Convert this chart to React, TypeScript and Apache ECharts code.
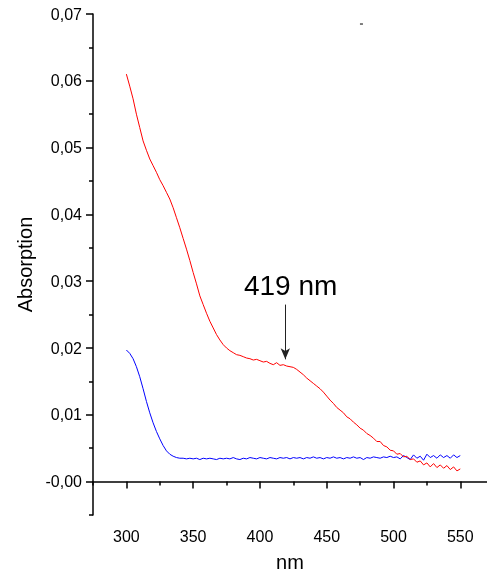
import React, { useEffect, useRef } from "react";
import * as echarts from "echarts";

const wavelengths = [
  300, 302.5, 305, 307.5, 310, 312.5, 315, 317.5, 320, 322.5, 325, 327.5, 330, 332.5, 335, 337.5,
  340, 342.5, 345, 347.5, 350, 352.5, 355, 357.5, 360, 362.5, 365, 367.5, 370, 372.5, 375, 377.5,
  380, 382.5, 385, 387.5, 390, 392.5, 395, 397.5, 400, 402.5, 405, 407.5, 410, 412.5, 415, 417.5,
  420, 422.5, 425, 427.5, 430, 432.5, 435, 437.5, 440, 442.5, 445, 447.5, 450, 452.5, 455, 457.5,
  460, 462.5, 465, 467.5, 470, 472.5, 475, 477.5, 480, 482.5, 485, 487.5, 490, 492.5, 495, 497.5,
  500, 502.5, 505, 507.5, 510, 512.5, 515, 517.5, 520, 522.5, 525, 527.5, 530, 532.5, 535, 537.5,
  540, 542.5, 545, 547.5, 550,
];

const redAbs = [
  0.0610, 0.0592, 0.0573, 0.0550, 0.0530, 0.0510, 0.0496, 0.0483, 0.0473, 0.0463, 0.0452, 0.0443,
  0.0433, 0.0423, 0.0410, 0.0395, 0.0380, 0.0364, 0.0348, 0.0331, 0.0313, 0.0296, 0.0278, 0.0265,
  0.0252, 0.0240, 0.0230, 0.0220, 0.0212, 0.0205, 0.0200, 0.0196, 0.0193, 0.0190, 0.0189, 0.0187,
  0.0185, 0.0184, 0.0182, 0.0183, 0.0181, 0.0179, 0.0180, 0.0177, 0.0175, 0.0178, 0.0174, 0.0175,
  0.0173, 0.0172, 0.0171, 0.0168, 0.0164, 0.0160, 0.0155, 0.0151, 0.0147, 0.0143, 0.0139, 0.0134,
  0.0128, 0.0122, 0.0117, 0.0111, 0.0107, 0.0103, 0.0097, 0.0094, 0.0089, 0.0085, 0.0080, 0.0077,
  0.0072, 0.0069, 0.0065, 0.0060, 0.0060, 0.0054, 0.0052, 0.0047, 0.0046, 0.0041, 0.0042, 0.0037,
  0.0038, 0.0033, 0.0034, 0.0029, 0.0031, 0.0025, 0.0028, 0.0022, 0.0027, 0.0021, 0.0025, 0.0020,
  0.0024, 0.0018, 0.0022, 0.0016, 0.0019,
];

const blueAbs = [
  0.0197, 0.0192, 0.0184, 0.0172, 0.0157, 0.0139, 0.0120, 0.0103, 0.0088, 0.0075, 0.0064, 0.0054,
  0.0046, 0.0041, 0.0038, 0.0036, 0.0035, 0.0035, 0.0034, 0.0035, 0.0034, 0.0035, 0.0033, 0.0035,
  0.0034, 0.0035, 0.0034, 0.0033, 0.0035, 0.0034, 0.0035, 0.0034, 0.0036, 0.0034, 0.0033, 0.0035,
  0.0034, 0.0036, 0.0035, 0.0034, 0.0036, 0.0035, 0.0034, 0.0036, 0.0035, 0.0034, 0.0036, 0.0035,
  0.0036, 0.0034, 0.0036, 0.0035, 0.0036, 0.0034, 0.0036, 0.0035, 0.0037, 0.0035, 0.0036, 0.0034,
  0.0036, 0.0035, 0.0037, 0.0035, 0.0036, 0.0034, 0.0036, 0.0035, 0.0037, 0.0035, 0.0036, 0.0033,
  0.0036, 0.0035, 0.0037, 0.0036, 0.0035, 0.0037, 0.0036, 0.0038, 0.0036, 0.0037, 0.0034, 0.0039,
  0.0036, 0.0033, 0.0040, 0.0035, 0.0038, 0.0032, 0.0041, 0.0036, 0.0039, 0.0035, 0.0040, 0.0036,
  0.0039, 0.0035, 0.0040, 0.0036, 0.0039,
];

const xMajorTicks = [300, 350, 400, 450, 500, 550];
const xMinorTicks = [275, 325, 375, 425, 475, 525];
const yMajorTicks = [0, 0.01, 0.02, 0.03, 0.04, 0.05, 0.06, 0.07];
const yTickLabels = ["-0,00", "0,01", "0,02", "0,03", "0,04", "0,05", "0,06", "0,07"];
const yMinorTicks = [-0.005, 0.005, 0.015, 0.025, 0.035, 0.045, 0.055, 0.065];

const peakNm = 419;
const peakLabel = "419 nm";

const FONT = "Liberation Sans, Arial, sans-serif";

export default function App() {
  const ref = useRef<HTMLDivElement>(null);
  useEffect(() => {
    if (!ref.current) return;
    const chart = echarts.init(ref.current, undefined, { renderer: "svg" });
    const red = wavelengths.map((w, i) => [w, redAbs[i]]);
    const blue = wavelengths.map((w, i) => [w, blueAbs[i]]);
    const axisLine = { show: true, lineStyle: { color: "#000", width: 1.5 } };
    chart.setOption({
      animation: false,
      textStyle: { fontFamily: FONT },
      grid: { left: 93, right: 0, top: 14, bottom: 57, containLabel: false, outerBoundsMode: "none" },
      xAxis: [
        {
          type: "value",
          min: 275,
          max: 570,
          name: "nm",
          nameLocation: "middle",
          nameGap: 37,
          nameTextStyle: { color: "#000", fontSize: 20, fontFamily: FONT },
          axisLine,
          splitLine: { show: false },
          axisTick: { show: true, customValues: xMajorTicks, length: 7, lineStyle: { color: "#000", width: 1.5 } },
          axisLabel: { customValues: xMajorTicks, color: "#000", fontSize: 16, margin: 13, fontFamily: FONT },
        },
        {
          type: "value",
          min: 275,
          max: 570,
          position: "bottom",
          axisLine: { show: false },
          splitLine: { show: false },
          axisLabel: { show: false },
          axisTick: { show: true, customValues: xMinorTicks, length: 4, lineStyle: { color: "#000", width: 1.5 } },
        },
      ],
      yAxis: [
        {
          type: "value",
          min: -0.005,
          max: 0.07,
          name: "Absorption",
          nameLocation: "middle",
          nameGap: 58,
          nameTextStyle: { color: "#000", fontSize: 20, fontFamily: FONT },
          axisLine,
          splitLine: { show: false },
          axisTick: { show: true, customValues: yMajorTicks, length: 7, lineStyle: { color: "#000", width: 1.5 } },
          axisLabel: {
            customValues: yMajorTicks,
            color: "#000",
            fontSize: 16,
            margin: 11,
            fontFamily: FONT,
            formatter: (v: number) => {
              const idx = yMajorTicks.findIndex((t) => Math.abs(t - v) < 1e-9);
              return idx >= 0 ? yTickLabels[idx] : "";
            },
          },
        },
        {
          type: "value",
          min: -0.005,
          max: 0.07,
          position: "left",
          axisLine: { show: false },
          splitLine: { show: false },
          axisLabel: { show: false },
          axisTick: { show: true, customValues: yMinorTicks, length: 4, lineStyle: { color: "#000", width: 1.5 } },
        },
      ],
      series: [
        {
          type: "line",
          data: blue,
          showSymbol: false,
          symbol: "none",
          lineStyle: { color: "#0000ff", width: 1 },
          z: 2,
        },
        {
          type: "line",
          data: red,
          showSymbol: false,
          symbol: "none",
          lineStyle: { color: "#ff0000", width: 1 },
          z: 3,
          markLine: {
            silent: true,
            symbol: ["none", "arrow"],
            symbolSize: [7, 11],
            lineStyle: { color: "#222", width: 1, type: "solid" },
            label: { show: false },
            data: [[{ coord: [peakNm, 0.0265] }, { coord: [peakNm, 0.0183] }]],
          },
          markPoint: {
            silent: true,
            data: [
              {
                coord: [423, 0.0293],
                symbol: "rect",
                symbolSize: 0,
                label: { show: true, formatter: peakLabel, color: "#000", fontSize: 28, fontFamily: FONT, position: "inside" },
              },
              {
                coord: [476, 0.0685],
                symbol: "rect",
                symbolSize: [3, 1.5],
                itemStyle: { color: "#555" },
                label: { show: false },
              },
            ],
          },
        },
      ],
    });
    return () => chart.dispose();
  }, []);
  return <div ref={ref} style={{ position: "fixed", left: 0, top: 0, width: 487, height: 572 }} />;
}
